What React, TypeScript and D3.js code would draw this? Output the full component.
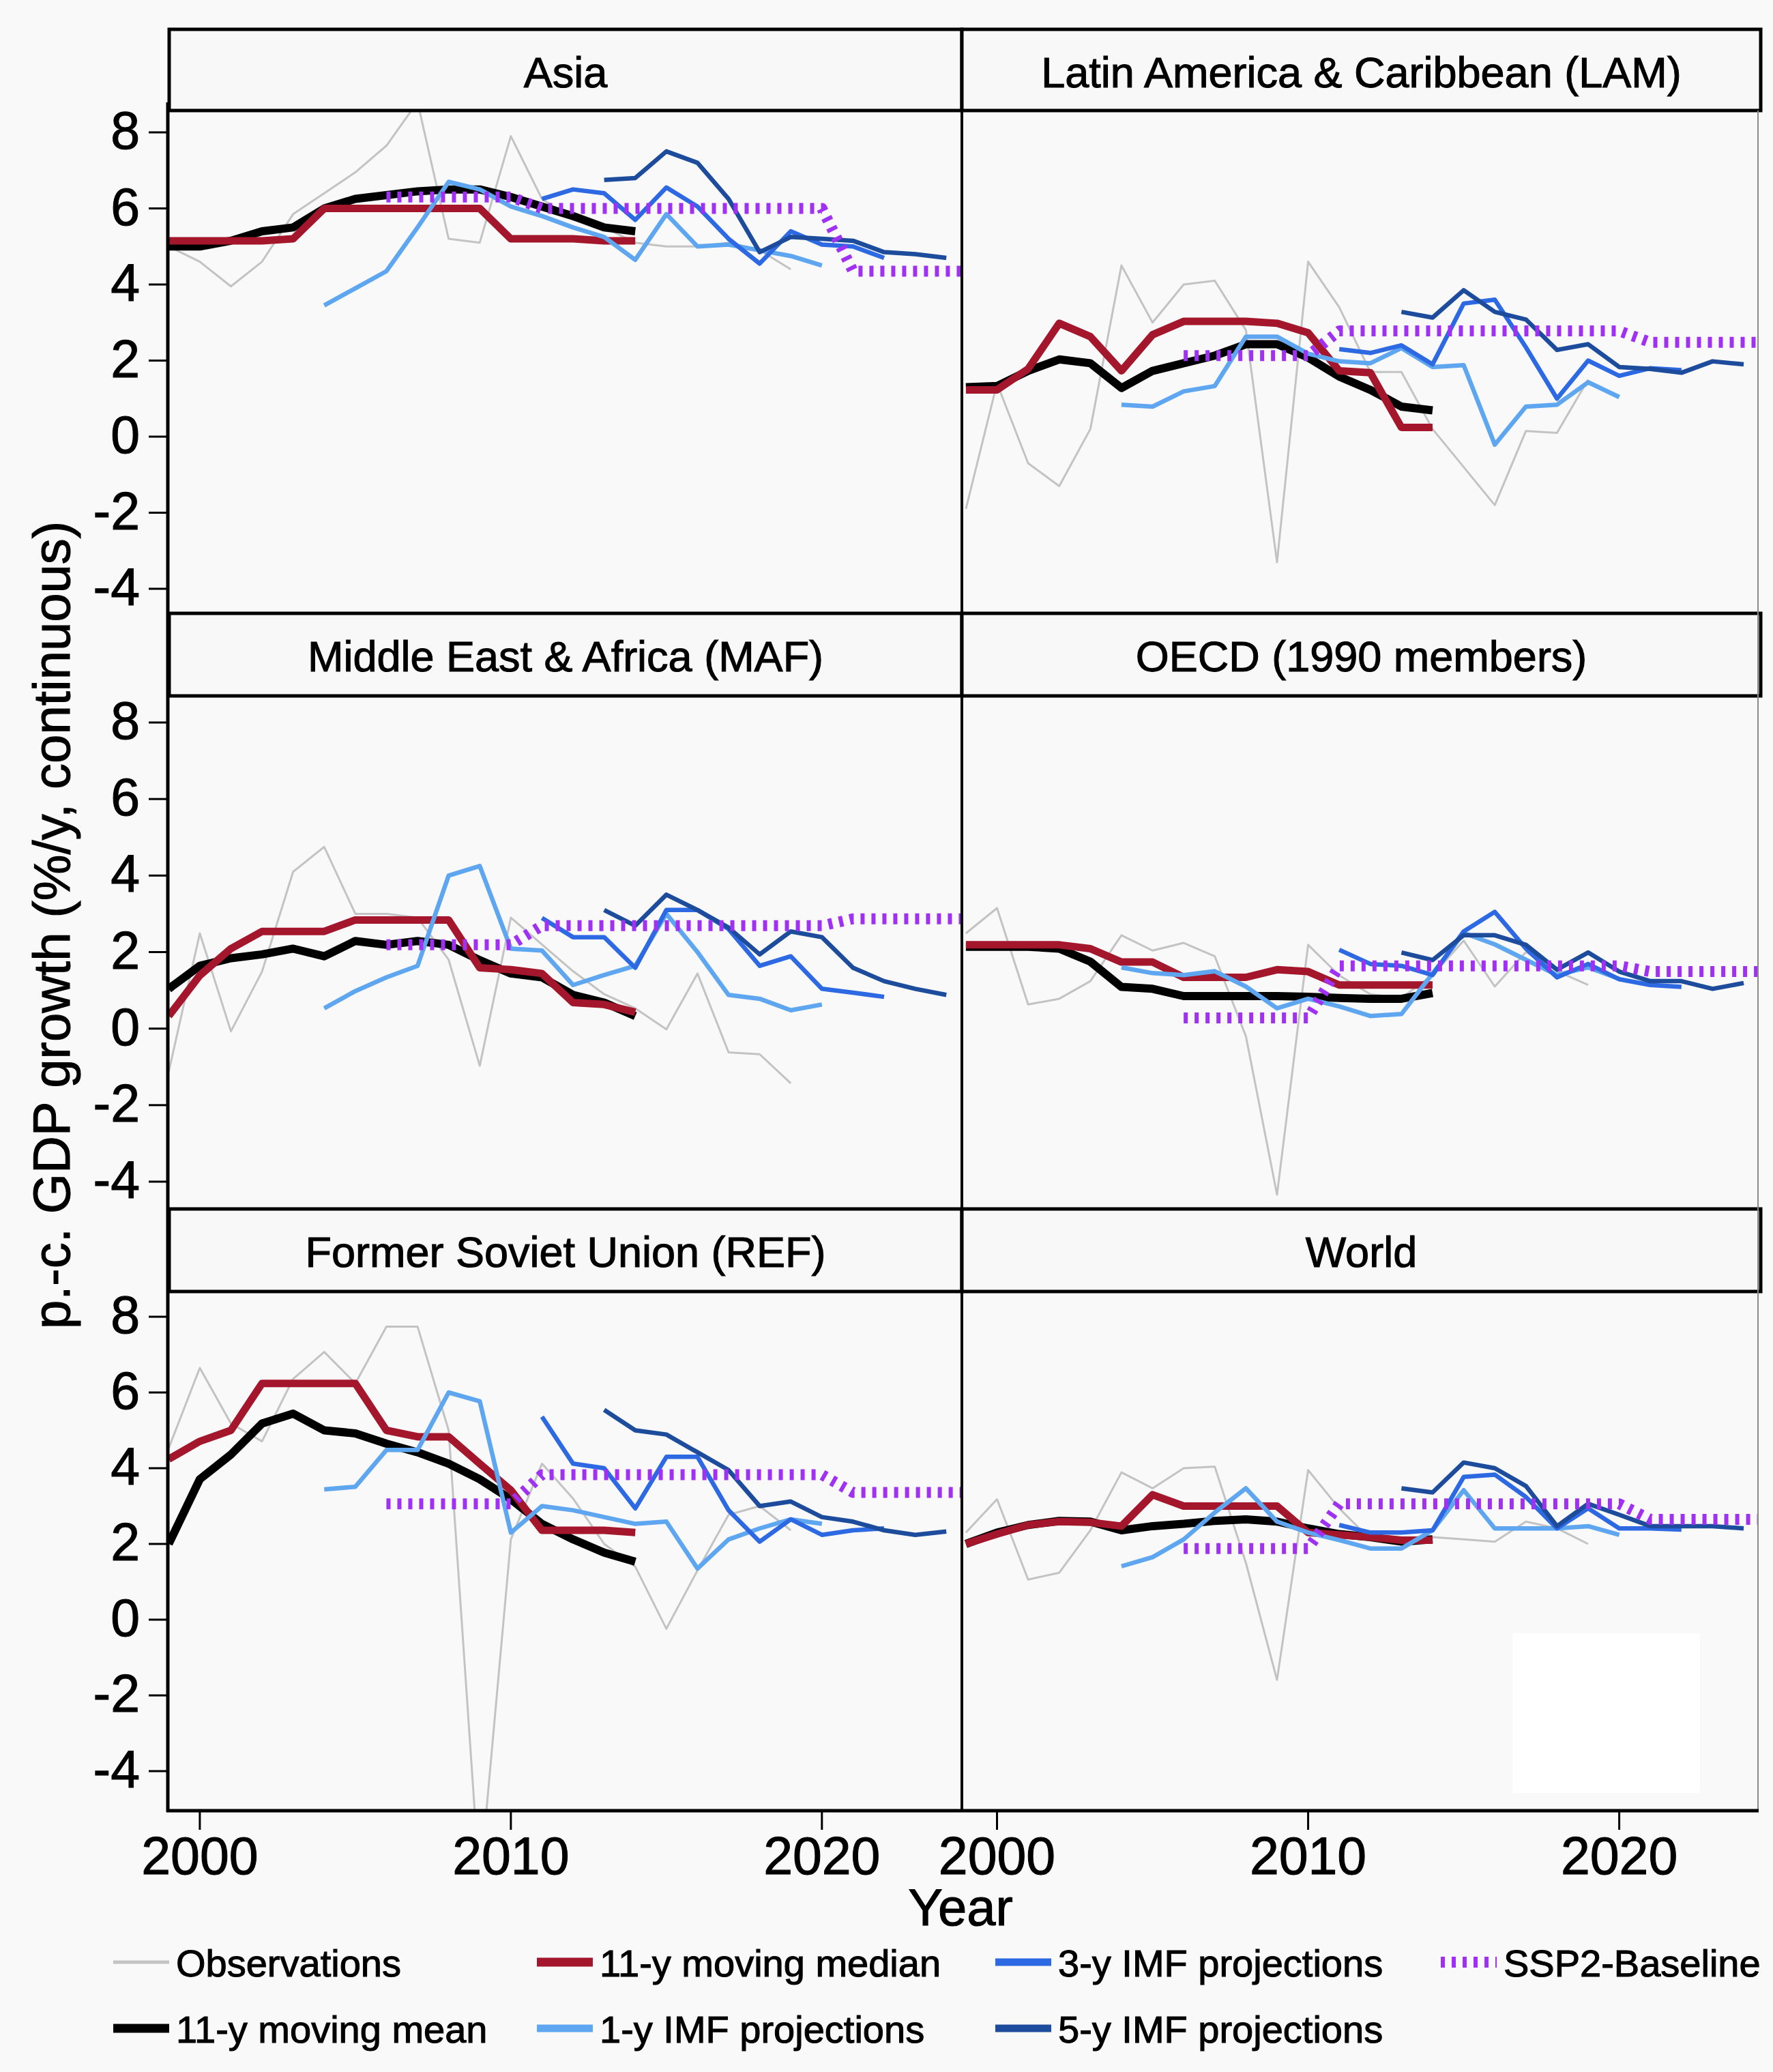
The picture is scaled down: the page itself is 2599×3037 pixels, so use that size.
import React from "react";
import * as d3 from "d3";

// ---------- data ----------
const REGIONS = [
  "Asia",
  "Latin America & Caribbean (LAM)",
  "Middle East & Africa (MAF)",
  "OECD (1990 members)",
  "Former Soviet Union (REF)",
  "World",
];

const OBS_YEARS = d3.range(1999, 2020);
const MA_YEARS = d3.range(1999, 2015);
const IMF1_YEARS = d3.range(2004, 2021);
const IMF3_YEARS = d3.range(2011, 2023);
const IMF5_YEARS = d3.range(2013, 2025);
const SSP2_YEARS = [2006, 2010, 2011, 2020, 2021, 2025];
const X_TICKS = [2000, 2010, 2020];
const Y_TICKS = [8, 6, 4, 2, 0, -2, -4];

const OBSERVATIONS = [
  [5.0, 4.6, 3.95, 4.6, 5.85, 6.4, 6.95, 7.65, 8.8, 5.2, 5.1, 7.9, 6.25, 5.7, 5.5, 5.1, 5.0, 5.0, 5.1, 4.9, 4.4],
  [-1.9, 1.4, -0.7, -1.3, 0.2, 4.5, 3.0, 4.0, 4.1, 2.8, -3.3, 4.6, 3.4, 1.7, 1.7, 0.2, -0.8, -1.8, 0.15, 0.1, 1.5],
  [-1.13, 2.49, -0.07, 1.49, 4.1, 4.75, 3.0, 3.0, 2.9, 1.8, -0.97, 2.9, 2.2, 1.5, 0.9, 0.53, -0.02, 1.44, -0.62, -0.67, -1.43],
  [2.49, 3.15, 0.63, 0.78, 1.24, 2.44, 2.04, 2.24, 1.89, -0.2, -4.34, 2.19, 1.39, 0.9, 0.8, 1.4, 2.3, 1.1, 2.0, 1.5, 1.14],
  [4.53, 6.65, 5.18, 4.71, 6.36, 7.07, 6.24, 7.74, 7.74, 5.0, -7.0, 2.12, 4.12, 3.2, 2.0, 1.4, -0.24, 1.3, 2.77, 3.0, 2.36],
  [2.3, 3.18, 1.06, 1.24, 2.36, 3.89, 3.47, 4.0, 4.04, 1.5, -1.59, 3.95, 2.94, 2.12, 2.1, 2.18, 2.12, 2.06, 2.59, 2.41, 2.0],
];

const MOVING_MEAN = [
  [5.0, 5.0, 5.15, 5.4, 5.5, 6.0, 6.25, 6.35, 6.45, 6.5, 6.5, 6.3, 6.05, 5.8, 5.5, 5.4],
  [1.3, 1.33, 1.73, 2.03, 1.93, 1.28, 1.73, 1.93, 2.13, 2.43, 2.43, 2.08, 1.58, 1.23, 0.79, 0.69],
  [1.04, 1.64, 1.84, 1.94, 2.09, 1.89, 2.29, 2.19, 2.29, 2.19, 1.79, 1.44, 1.34, 0.88, 0.68, 0.33],
  [2.14, 2.14, 2.14, 2.09, 1.75, 1.09, 1.04, 0.85, 0.85, 0.85, 0.85, 0.83, 0.8, 0.78, 0.78, 0.93],
  [2.0, 3.71, 4.36, 5.18, 5.44, 5.0, 4.92, 4.65, 4.42, 4.12, 3.71, 3.18, 2.53, 2.12, 1.77, 1.53],
  [2.0, 2.3, 2.5, 2.61, 2.59, 2.36, 2.47, 2.53, 2.61, 2.65, 2.59, 2.41, 2.26, 2.18, 2.06, 2.12],
];

const MOVING_MEDIAN = [
  [5.15, 5.15, 5.15, 5.15, 5.2, 6.0, 6.0, 6.0, 6.0, 6.0, 6.0, 5.2, 5.2, 5.2, 5.15, 5.15],
  [1.23, 1.23, 1.78, 2.98, 2.63, 1.73, 2.68, 3.03, 3.03, 3.03, 2.98, 2.73, 1.73, 1.68, 0.24, 0.24],
  [0.33, 1.39, 2.09, 2.54, 2.54, 2.54, 2.84, 2.84, 2.84, 2.84, 1.59, 1.54, 1.44, 0.68, 0.63, 0.43],
  [2.19, 2.19, 2.19, 2.19, 2.09, 1.74, 1.74, 1.34, 1.34, 1.34, 1.54, 1.49, 1.14, 1.14, 1.14, 1.14],
  [4.24, 4.71, 5.0, 6.24, 6.24, 6.24, 6.24, 5.0, 4.83, 4.83, 4.12, 3.42, 2.36, 2.36, 2.36, 2.3],
  [2.0, 2.26, 2.5, 2.59, 2.57, 2.47, 3.3, 3.0, 3.0, 3.0, 3.0, 2.3, 2.24, 2.18, 2.1, 2.1],
];

const IMF_1Y = [
  [3.45, 3.9, 4.35, 5.5, 6.7, 6.5, 6.05, 5.8, 5.5, 5.25, 4.65, 5.85, 5.0, 5.05, 4.9, 4.75, 4.5],
  [0.84, 0.79, 1.19, 1.33, 2.63, 2.63, 2.18, 1.98, 1.93, 2.33, 1.83, 1.88, -0.21, 0.79, 0.84, 1.43, 1.04],
  [0.53, 0.98, 1.34, 1.64, 4.0, 4.25, 2.09, 2.04, 1.14, 1.4, 1.64, 3.0, 2.0, 0.88, 0.78, 0.48, 0.63],
  [1.6, 1.45, 1.4, 1.5, 1.1, 0.53, 0.78, 0.58, 0.33, 0.38, 1.44, 2.5, 2.2, 1.8, 1.4, 1.6, 1.3],
  [3.44, 3.51, 4.48, 4.48, 6.0, 5.77, 2.3, 3.0, 2.89, 2.71, 2.53, 2.59, 1.35, 2.12, 2.41, 2.65, 2.53],
  [1.41, 1.65, 2.12, 2.83, 3.47, 2.59, 2.3, 2.1, 1.88, 1.88, 2.36, 3.42, 2.41, 2.41, 2.41, 2.47, 2.24],
];

const IMF_3Y = [
  [6.25, 6.5, 6.4, 5.7, 6.55, 6.05, 5.2, 4.55, 5.4, 5.05, 5.0, 4.7],
  [2.3, 2.2, 2.4, 1.9, 3.5, 3.6, 2.35, 1.0, 2.0, 1.6, 1.8, 1.75],
  [2.89, 2.39, 2.39, 1.59, 3.1, 3.1, 2.6, 1.64, 1.89, 1.04, 0.94, 0.83],
  [2.06, 1.69, 1.64, 1.4, 2.54, 3.05, 2.09, 1.34, 1.69, 1.29, 1.14, 1.09],
  [5.36, 4.12, 4.0, 2.94, 4.3, 4.3, 2.89, 2.06, 2.65, 2.24, 2.36, 2.41],
  [2.5, 2.3, 2.3, 2.36, 3.77, 3.83, 3.24, 2.41, 2.94, 2.41, 2.41, 2.38],
];

const IMF_5Y = [
  [6.75, 6.8, 7.5, 7.2, 6.25, 4.85, 5.25, 5.2, 5.15, 4.85, 4.8, 4.7],
  [3.28, 3.13, 3.85, 3.28, 3.08, 2.28, 2.43, 1.83, 1.78, 1.68, 1.98, 1.9],
  [3.1, 2.69, 3.5, 3.1, 2.64, 1.94, 2.54, 2.39, 1.59, 1.24, 1.04, 0.88],
  [1.99, 1.79, 2.44, 2.44, 2.19, 1.54, 1.99, 1.49, 1.24, 1.24, 1.04, 1.19],
  [5.54, 5.0, 4.89, 4.42, 3.95, 3.0, 3.12, 2.71, 2.59, 2.36, 2.24, 2.33],
  [3.47, 3.36, 4.15, 4.0, 3.53, 2.47, 3.06, 2.77, 2.47, 2.47, 2.47, 2.41],
];

const SSP2 = [
  [6.3, 6.3, 6.0, 6.0, 4.35, 4.35],
  [2.13, 2.13, 2.78, 2.78, 2.48, 2.48],
  [2.19, 2.19, 2.69, 2.69, 2.87, 2.87],
  [0.28, 0.28, 1.64, 1.64, 1.49, 1.49],
  [3.06, 3.06, 3.83, 3.83, 3.36, 3.36],
  [1.88, 1.88, 3.06, 3.06, 2.65, 2.65],
];

// ---------- styles / layout ----------
const FONT = "'Liberation Sans', Arial, Helvetica, sans-serif";
const BG = "#f9f9f9";

const SERIES = [
  { key: "obs", label: "Observations", years: OBS_YEARS, values: OBSERVATIONS, color: "#c3c3c3", width: 3, dash: null, keyWidth: 5 },
  { key: "mean", label: "11-y moving mean", years: MA_YEARS, values: MOVING_MEAN, color: "#000000", width: 12, dash: null, keyWidth: 13 },
  { key: "median", label: "11-y moving median", years: MA_YEARS, values: MOVING_MEDIAN, color: "#a3162b", width: 11, dash: null, keyWidth: 13 },
  { key: "imf1", label: "1-y IMF projections", years: IMF1_YEARS, values: IMF_1Y, color: "#5ea6f0", width: 6.5, dash: null, keyWidth: 11 },
  { key: "imf3", label: "3-y IMF projections", years: IMF3_YEARS, values: IMF_3Y, color: "#2d69e2", width: 6.5, dash: null, keyWidth: 11 },
  { key: "imf5", label: "5-y IMF projections", years: IMF5_YEARS, values: IMF_5Y, color: "#1c4c9b", width: 6.5, dash: null, keyWidth: 11 },
  { key: "ssp2", label: "SSP2-Baseline", years: SSP2_YEARS, values: SSP2, color: "#a031f2", width: 16, dash: "6 10", keyWidth: 16 },
];

const COLS = [
  { x0: 247, x1: 1410, sx0: 248, sx1: 1410, t2000: 292.9, t2020: 1204.8 },
  { x0: 1410, x1: 2577, sx0: 1410, sx1: 2581, t2000: 1461.5, t2020: 2373.6 },
];
const ROWS = [
  { stripTop: 43, top: 162, bottom: 899, y8: 194, ym4: 863 },
  { stripTop: 899, top: 1020, bottom: 1771, y8: 1059, ym4: 1732 },
  { stripTop: 1772, top: 1893, bottom: 2654, y8: 1930, ym4: 2596 },
];

const LEGEND = [
  { key: "obs", x: 166, row: 0 },
  { key: "median", x: 787, row: 0 },
  { key: "imf3", x: 1459, row: 0 },
  { key: "ssp2", x: 2112, row: 0 },
  { key: "mean", x: 166, row: 1 },
  { key: "imf1", x: 787, row: 1 },
  { key: "imf5", x: 1459, row: 1 },
];
const LEGEND_ROW_Y = [2876, 2973];

const TEXT_STROKE = { stroke: "#000", strokeWidth: 1.1 };

export default function App() {
  const W = 2599;
  const H = 3037;

  const panels = REGIONS.map((name, i) => {
    const row = ROWS[Math.floor(i / 2)];
    const col = COLS[i % 2];
    const x = d3.scaleLinear().domain([2000, 2020]).range([col.t2000, col.t2020]);
    const y = d3.scaleLinear().domain([8, -4]).range([row.y8, row.ym4]);
    return { name, i, row, col, x, y };
  });

  return (
    <svg
      width={W}
      height={H}
      viewBox={`0 0 ${W} ${H}`}
      style={{ position: "absolute", left: 0, top: 0, display: "block" }}
      fontFamily={FONT}
    >
      <rect x={0} y={0} width={W} height={H} fill={BG} />
      <defs>
        {panels.map((p) => (
          <clipPath id={`clip${p.i}`} key={p.i}>
            <rect x={p.col.x0} y={p.row.top} width={p.col.x1 - p.col.x0} height={p.row.bottom - p.row.top} />
          </clipPath>
        ))}
      </defs>

      {/* white box in World panel */}
      <rect x={2217} y={2394} width={275} height={234} fill="#ffffff" />

      {panels.map((p) => {
        const line = d3
          .line<[number, number]>()
          .x((d) => p.x(d[0]))
          .y((d) => p.y(d[1]))
          .curve(d3.curveLinear);
        return (
          <g key={p.name}>
            <g clipPath={`url(#clip${p.i})`}>
              {SERIES.map((s) => {
                const pts = s.years.map((yr, k) => [yr, s.values[p.i][k]] as [number, number]);
                return (
                  <path
                    key={s.key}
                    d={line(pts) || ""}
                    fill="none"
                    stroke={s.color}
                    strokeWidth={s.width}
                    strokeDasharray={s.dash || undefined}
                    strokeLinejoin="round"
                    strokeLinecap="butt"
                  />
                );
              })}
            </g>
            {/* strip */}
            <rect
              x={p.col.sx0}
              y={p.row.stripTop}
              width={p.col.sx1 - p.col.sx0}
              height={p.row.top - p.row.stripTop}
              fill="#f8f8f8"
              stroke="#000"
              strokeWidth={5}
            />
            <text
              x={(p.col.sx0 + p.col.sx1) / 2}
              y={p.row.stripTop + 85}
              textAnchor="middle"
              fontSize={63}
              fill="#000"
              {...TEXT_STROKE}
            >
              {p.name}
            </text>
          </g>
        );
      })}

      {/* right-edge thin border */}
      <line x1={2577} y1={162} x2={2577} y2={2654} stroke="#8a8a8a" strokeWidth={2} />
      {/* middle divider */}
      <line x1={1410} y1={43} x2={1410} y2={2656} stroke="#000" strokeWidth={4} />
      {/* left axis line */}
      <line x1={246} y1={150} x2={246} y2={2656} stroke="#000" strokeWidth={5} />
      {/* bottom axis line */}
      <line x1={244} y1={2654} x2={2578} y2={2654} stroke="#000" strokeWidth={5} />

      {/* y ticks & labels (left column) */}
      {panels
        .filter((p) => p.i % 2 === 0)
        .map((p) => (
          <g key={`yt${p.i}`}>
            {Y_TICKS.map((t) => (
              <g key={t}>
                <line x1={218} x2={244} y1={p.y(t)} y2={p.y(t)} stroke="#000" strokeWidth={3} />
                <text x={205} y={p.y(t) + 24} textAnchor="end" fontSize={77} fill="#000" {...TEXT_STROKE}>
                  {t < 0 ? `-${Math.abs(t)}` : `${t}`}
                </text>
              </g>
            ))}
          </g>
        ))}

      {/* x ticks & labels (bottom row) */}
      {panels
        .filter((p) => Math.floor(p.i / 2) === 2)
        .map((p) => (
          <g key={`xt${p.i}`}>
            {X_TICKS.map((t) => (
              <g key={t}>
                <line x1={p.x(t)} x2={p.x(t)} y1={2656} y2={2682} stroke="#000" strokeWidth={3} />
                <text x={p.x(t)} y={2747} textAnchor="middle" fontSize={77} fill="#000" {...TEXT_STROKE}>
                  {t}
                </text>
              </g>
            ))}
          </g>
        ))}

      {/* axis titles */}
      <text x={1408} y={2822} textAnchor="middle" fontSize={76} fill="#000" {...TEXT_STROKE}>
        Year
      </text>
      <text
        transform="translate(102,1356) rotate(-90)"
        textAnchor="middle"
        fontSize={76}
        fill="#000"
        {...TEXT_STROKE}
      >
        p.-c. GDP growth (%/y, continuous)
      </text>

      {/* legend */}
      {LEGEND.map((l) => {
        const s = SERIES.find((d) => d.key === l.key)!;
        const cy = LEGEND_ROW_Y[l.row];
        return (
          <g key={l.key}>
            <line
              x1={l.x}
              x2={l.x + 82}
              y1={cy}
              y2={cy}
              stroke={s.color}
              strokeWidth={s.keyWidth}
              strokeDasharray={s.dash || undefined}
            />
            <text x={l.x + 92} y={cy + 21} fontSize={56} fill="#000" {...TEXT_STROKE}>
              {s.label}
            </text>
          </g>
        );
      })}
    </svg>
  );
}
